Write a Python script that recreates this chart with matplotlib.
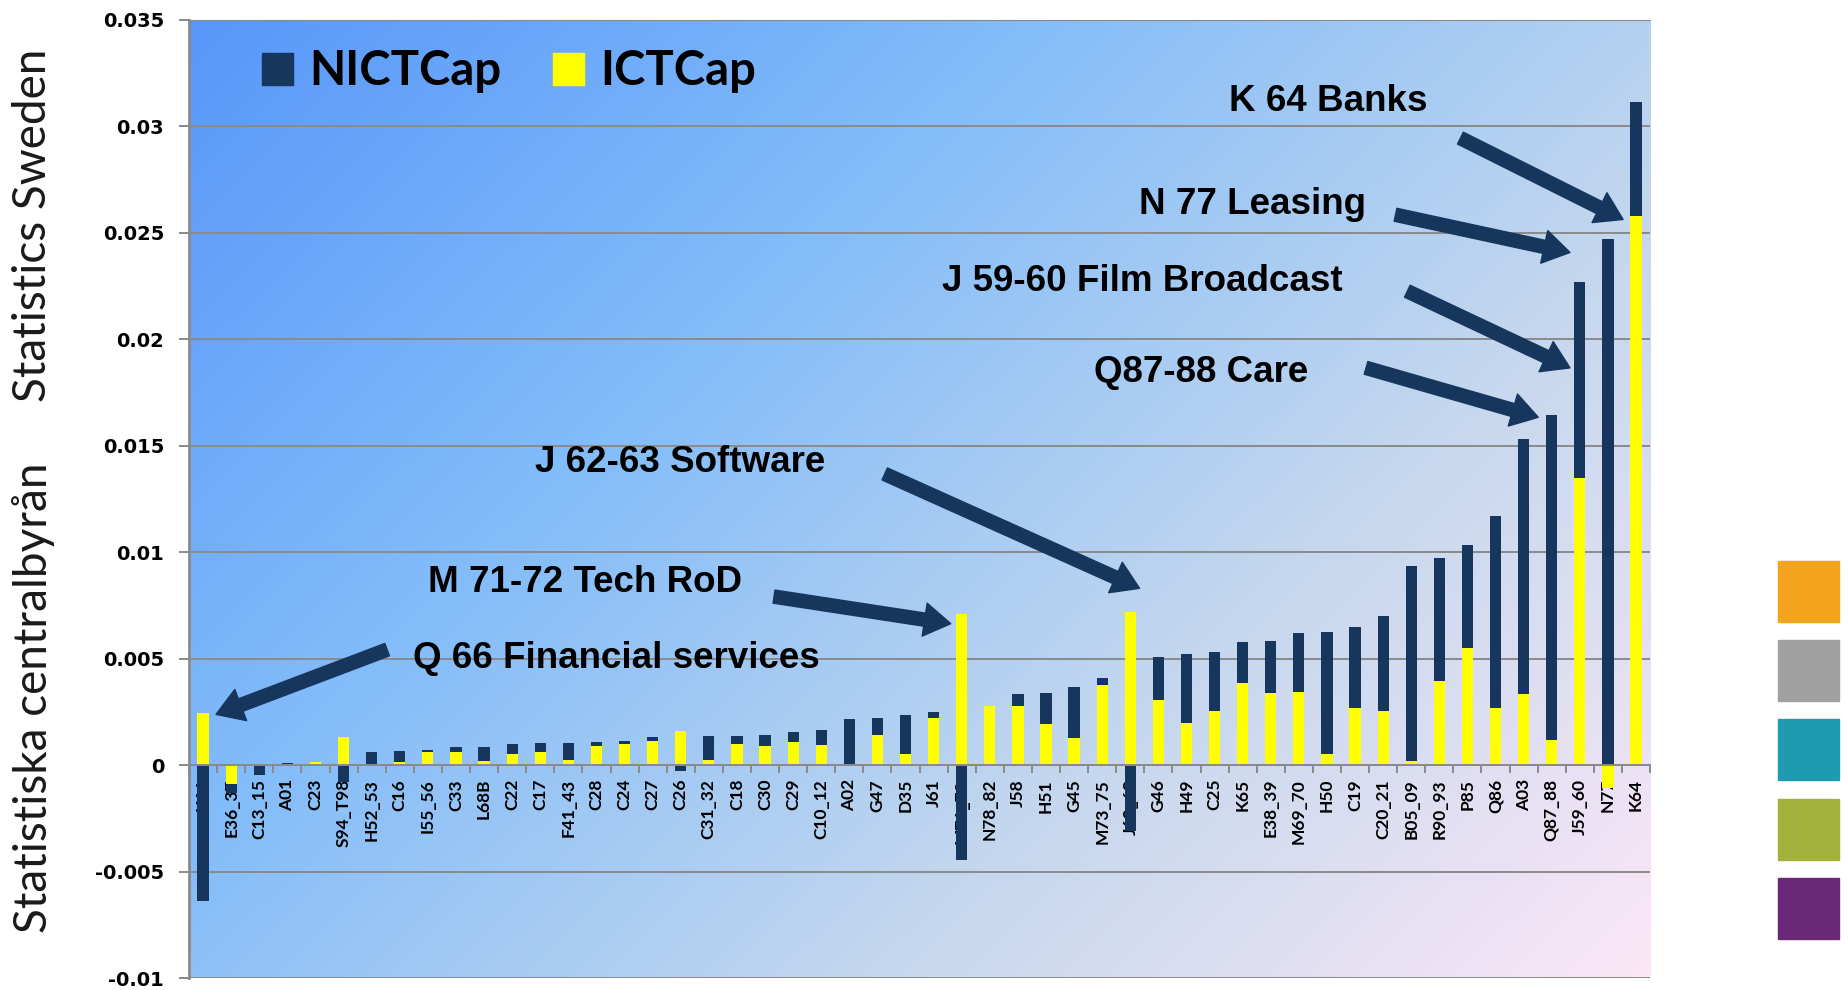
import matplotlib
matplotlib.use('Agg')
import matplotlib.pyplot as plt
import numpy as np
from matplotlib.colors import LinearSegmentedColormap
from matplotlib.patches import Rectangle, Patch

# industries, sorted as in the original chart
cats = ['K66', 'E36_37', 'C13_15', 'A01', 'C23', 'S94_T98', 'H52_53', 'C16', 'I55_56', 'C33',
        'L68B', 'C22', 'C17', 'F41_43', 'C28', 'C24', 'C27', 'C26', 'C31_32', 'C18',
        'C30', 'C29', 'C10_12', 'A02', 'G47', 'D35', 'J61', 'M71_72', 'N78_82', 'J58',
        'H51', 'G45', 'M73_75', 'J62_63', 'G46', 'H49', 'C25', 'K65', 'E38_39', 'M69_70',
        'H50', 'C19', 'C20_21', 'B05_09', 'R90_93', 'P85', 'Q86', 'A03', 'Q87_88', 'J59_60',
        'N77', 'K64']

# ICT capital share (yellow)
ict = [0.00245, -0.0009, 0.0, 0.0, 0.00013, 0.00133, 0.0, 0.00016, 0.00063, 0.00063,
       0.00017, 0.0005, 0.00061, 0.00022, 0.00088, 0.001, 0.00113, 0.0016, 0.00026, 0.001,
       0.00088, 0.00107, 0.00095, 0.0, 0.00141, 0.00051, 0.0022, 0.0071, 0.00278, 0.00278,
       0.00193, 0.00125, 0.00378, 0.0072, 0.00306, 0.00196, 0.00252, 0.00385, 0.0034, 0.00342,
       0.0005, 0.0027, 0.00254, 0.00017, 0.00396, 0.0055, 0.0027, 0.00332, 0.0012, 0.01348,
       -0.0011, 0.0258]

# non-ICT capital share (navy)
nict = [-0.00636, -0.0004, -0.00045, 0.0001, 0.00003, -0.0008, 0.0006, 0.00048, 0.00007, 0.0002,
        0.00067, 0.00047, 0.00042, 0.00081, 0.00018, 0.00013, 0.00017, -0.00027, 0.00109, 0.00035,
        0.00054, 0.0005, 0.0007, 0.00215, 0.00079, 0.00183, 0.00028, -0.00447, 0.0, 0.00055,
        0.00144, 0.00243, 0.00032, -0.00308, 0.002, 0.00326, 0.00278, 0.00195, 0.00243, 0.0028,
        0.00573, 0.00378, 0.00446, 0.00916, 0.00577, 0.00481, 0.00899, 0.01201, 0.01522, 0.00919,
        0.0247, 0.00533]

# callouts: text, text anchor (left, middle), arrow tail, arrow head  (data coords)
callouts = [
    ('K 64 Banks', (36.5, 0.03115), (44.75, 0.02944), (50.54, 0.02562)),
    ('N 77 Leasing', (33.3, 0.0263), (42.44, 0.02584), (48.65, 0.02407)),
    ('J 59-60 Film Broadcast', (26.3, 0.0227), (42.86, 0.02225), (48.65, 0.01865)),
    ('Q87-88 Care', (31.7, 0.01844), (41.39, 0.01865), (47.52, 0.01633)),
    ('J 62-63 Software', (11.8, 0.01423), (24.26, 0.01367), (33.33, 0.0083)),
    ('M 71-72 Tech RoD', (8.0, 0.00859), (20.32, 0.00791), (26.61, 0.00664)),
    ('Q 66 Financial services', (7.47, 0.00499), (6.55, 0.00542), (0.46, 0.00238)),
]

navy = '#17365D'
yellow = '#FFFF00'
grey = '#8A8A8A'

fig = plt.figure(figsize=(18.48, 9.9), dpi=100)
ax = fig.add_axes([0.1023, 0.0121, 0.7906, 0.968])

# gradient background of the plot area
bg = LinearSegmentedColormap.from_list('bg', [(0, '#5797F9'), (0.35, '#84BDF9'),
                                              (0.68, '#C4D7EE'), (1, '#FBE7F6')])
u, v = np.meshgrid(np.linspace(0, 1, 300), np.linspace(0, 1, 200))
ax.imshow(0.6 * u + 0.4 * (1 - v), cmap=bg, extent=(0, 1, 0, 1), transform=ax.transAxes,
          aspect='auto', origin='lower', zorder=0, interpolation='bilinear')

x = np.arange(len(cats))
ict_a = np.array(ict)
nict_a = np.array(nict)
nbottom = np.where(np.sign(ict_a) == np.sign(nict_a), ict_a, 0)
ax.bar(x, nict_a, 0.4, bottom=nbottom, color=navy, zorder=2)
ax.bar(x, ict_a, 0.4, color=yellow, zorder=2)

yt = np.round(np.arange(-0.01, 0.0351, 0.005), 3)
for y in yt:
    ax.axhline(y, color=grey, lw=1.4, zorder=1)
ax.set_xlim(-0.5, len(cats) - 0.5)
ax.set_ylim(-0.01, 0.035)
ax.set_yticks(yt)
ax.set_yticklabels([f'{t:g}' for t in yt], fontweight='bold', fontsize=14)
ax.tick_params(axis='y', length=7, width=1.4, color=grey, pad=11)

ax.spines['right'].set_visible(False)
ax.spines['top'].set_color(grey)
ax.spines['left'].set_color(grey)
ax.spines['left'].set_linewidth(2)
ax.spines['bottom'].set_position(('data', 0))
ax.spines['bottom'].set_color(grey)
ax.spines['bottom'].set_linewidth(1.4)

ax.set_xticks(x)
ax.set_xticklabels(cats, rotation=90, fontsize=12.5, fontweight='bold', family='Lato')
ax.tick_params(axis='x', which='major', length=0, pad=10)
ax.set_xticks(np.arange(-0.5, len(cats)), minor=True)
ax.tick_params(axis='x', which='minor', length=6, width=1.4, color=grey)

for txt, tpos, tail, head in callouts:
    ax.text(tpos[0], tpos[1], txt, fontsize=26.5, fontweight='bold', family='Liberation Sans',
            ha='left', va='center', zorder=5)
    ax.annotate('', xy=head, xytext=tail, zorder=5,
                arrowprops=dict(arrowstyle='simple,head_length=1.9,head_width=2.4,tail_width=0.95',
                                mutation_scale=10, color=navy, shrinkA=0, shrinkB=0))

handles = [Patch(color=navy), Patch(color=yellow)]
ax.legend(handles, ['NICTCap', 'ICTCap'], loc='center left', bbox_to_anchor=(0.05, 0.946),
          ncol=2, frameon=False, borderpad=0, borderaxespad=0,
          prop=dict(family='Lato', weight='bold', size=34),
          handlelength=0.65, handleheight=0.65, handletextpad=0.35, columnspacing=1.1)

# logo text on the left
fig.text(0.018, 0.772, 'Statistics Sweden', rotation=90, ha='center', va='center',
         fontsize=33, family='Lato', color='#1A1A1A')
fig.text(0.018, 0.295, 'Statistiska centralbyrån', rotation=90, ha='center', va='center',
         fontsize=33, family='Lato', color='#1A1A1A')

# colour squares on the right
for top, c in [(561, '#F4A31D'), (640, '#A0A0A0'), (719, '#1F9AAF'), (799, '#A2B23A'), (878, '#6C2878')]:
    fig.add_artist(Rectangle((1778 / 1848, 1 - (top + 61) / 990), 61 / 1848, 61 / 990,
                             transform=fig.transFigure, color=c))

fig.savefig('out.png', dpi=100)
